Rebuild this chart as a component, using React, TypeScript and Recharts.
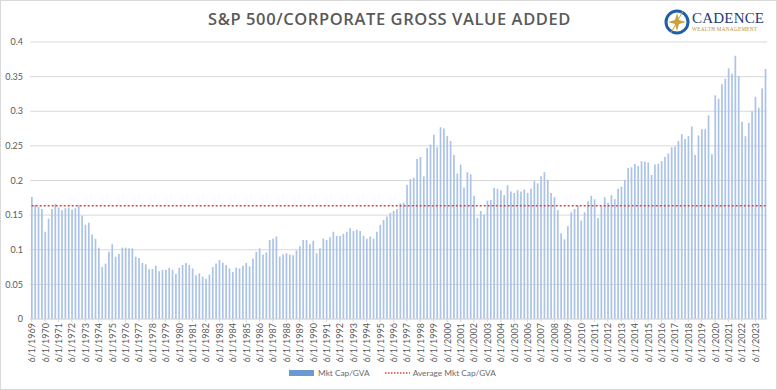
import { ComposedChart, Bar, Line, XAxis, YAxis, CartesianGrid } from 'recharts'

// quarterly readings, 6/1/1969 .. 3/1/2024
const mktCap1969 = [
  0.176, 0.165, 0.162, 0.159, 0.126, 0.145, 0.159, 0.166, 0.161, 0.157, 0.160, 0.161,
  0.158, 0.160, 0.164, 0.149, 0.136, 0.139, 0.122, 0.116, 0.103, 0.075, 0.080, 0.097,
  0.108, 0.090, 0.094, 0.103, 0.103, 0.102, 0.102, 0.090, 0.088, 0.081, 0.079, 0.072,
  0.072, 0.077, 0.069, 0.071, 0.071, 0.074, 0.071, 0.065,
]
const mktCap1980 = [
  0.074, 0.078, 0.081, 0.078, 0.073, 0.063, 0.066, 0.061, 0.058, 0.064, 0.075, 0.080,
  0.085, 0.081, 0.078, 0.073, 0.068, 0.074, 0.073, 0.077, 0.081, 0.076, 0.087, 0.097,
  0.102, 0.093, 0.096, 0.114, 0.116, 0.119, 0.090, 0.093, 0.095, 0.093, 0.092, 0.099,
  0.105, 0.114, 0.114, 0.108, 0.113, 0.095, 0.102, 0.116,
]
const mktCap1991 = [
  0.114, 0.118, 0.126, 0.120, 0.120, 0.123, 0.126, 0.131, 0.127, 0.129, 0.127, 0.120,
  0.116, 0.119, 0.116, 0.126, 0.136, 0.143, 0.148, 0.153, 0.156, 0.159, 0.167, 0.168,
  0.194, 0.202, 0.204, 0.231, 0.234, 0.206, 0.247, 0.252, 0.266, 0.248, 0.277, 0.275,
  0.264, 0.257, 0.237, 0.210, 0.223, 0.190, 0.212, 0.209,
]
const mktCap2002 = [
  0.178, 0.146, 0.156, 0.151, 0.171, 0.172, 0.189, 0.188, 0.186, 0.179, 0.193, 0.184,
  0.182, 0.186, 0.184, 0.187, 0.182, 0.188, 0.199, 0.196, 0.206, 0.212, 0.201, 0.182,
  0.176, 0.157, 0.124, 0.115, 0.134, 0.154, 0.159, 0.164, 0.142, 0.154, 0.170, 0.178,
  0.173, 0.146, 0.163, 0.176, 0.168, 0.179, 0.173,
]
const mktCap2013 = [
  0.188, 0.191, 0.201, 0.218, 0.219, 0.224, 0.221, 0.228, 0.227, 0.226, 0.208, 0.223,
  0.224, 0.228, 0.234, 0.239, 0.248, 0.249, 0.257, 0.267, 0.260, 0.264, 0.278, 0.237,
  0.265, 0.274, 0.274, 0.294, 0.238, 0.323, 0.318, 0.339, 0.347, 0.362, 0.354, 0.380,
  0.351, 0.285, 0.264, 0.283, 0.300, 0.321, 0.305, 0.333, 0.361,
]
const mktCapGva = [...mktCap1969, ...mktCap1980, ...mktCap1991, ...mktCap2002, ...mktCap2013]
const averageMktCap = 0.1635

const quarterMonths = [6, 9, 12, 3]
const quarterDates = mktCapGva.map((_, i) => `${quarterMonths[i % 4]}/1/${1969 + Math.floor((i + 1) / 4)}`)

const yTicks = [0, 0.05, 0.1, 0.15, 0.2, 0.25, 0.3, 0.35, 0.4]

const data = quarterDates.map((date, i) => ({ date, value: mktCapGva[i], avg: averageMktCap }))

const grey = '#595959'
const barBlue = '#aac3e6'

function DateTick({ x, y, payload }: any) {
  return (
    <text
      x={x}
      y={y + 1}
      transform={`rotate(-90 ${x} ${y + 1})`}
      textAnchor="end"
      dominantBaseline="central"
      fontSize={9}
      fill={grey}
      fontFamily="Lato"
    >
      {payload.value}
    </text>
  )
}

function Logo() {
  return (
    <div style={{ position: 'absolute', left: 662, top: 7, display: 'flex', alignItems: 'center' }}>
      <svg width={28} height={28} viewBox="0 0 28 28">
        <circle cx={14} cy={14} r={11} fill="none" stroke="#1f5fa8" strokeWidth={3} />
        <path d="M14 5 L16 12 L23 14 L16 16 L14 23 L12 16 L5 14 L12 12 Z" fill="#c9a23c" />
        <line x1={20} y1={3} x2={8} y2={25} stroke="#c9a23c" strokeWidth={1} />
      </svg>
      <div style={{ marginLeft: 1, lineHeight: 1 }}>
        <div style={{ fontFamily: 'Liberation Serif', fontSize: 15, color: '#1d3c78', letterSpacing: 0.2 }}>CADENCE</div>
        <div style={{ fontFamily: 'Liberation Serif', fontSize: 5.2, color: '#b8923a', marginTop: 1, letterSpacing: 0.3 }}>
          WEALTH MANAGEMENT
        </div>
      </div>
    </div>
  )
}

export default function App() {
  return (
    <div
      style={{
        position: 'absolute',
        left: 0,
        top: 0,
        width: 777,
        height: 390,
        boxSizing: 'border-box',
        border: '1px solid #d9d9d9',
        background: '#fff',
        fontFamily: 'Lato',
      }}
    >
      <div
        style={{
          position: 'absolute',
          left: 0,
          width: 777,
          top: 6,
          textAlign: 'center',
          fontFamily: 'Open Sans',
          fontWeight: 600,
          fontSize: 16.5,
          letterSpacing: 0.6,
          color: grey,
        }}
      >
        S&amp;P 500/CORPORATE GROSS VALUE ADDED
      </div>
      <Logo />
      <div style={{ position: 'absolute', left: -1, top: -1 }}>
        <ComposedChart width={777} height={390} data={data} margin={{ top: 42, right: 10, left: 0, bottom: 32 }}>
          <CartesianGrid vertical={false} stroke="#d9d9d9" />
          <XAxis
            dataKey="date"
            interval={3}
            height={39}
            tick={<DateTick />}
            tickSize={3}
            tickMargin={0}
            stroke="#d9d9d9"
          />
          <YAxis
            domain={[0, 0.4]}
            ticks={yTicks}
            width={30}
            axisLine={false}
            tickLine={false}
            tickSize={0}
            tickMargin={7}
            tick={{ fontSize: 9, fill: grey, fontFamily: 'Lato' }}
          />
          <Bar dataKey="value" fill={barBlue} barSize={1.7} isAnimationActive={false} />
          <Line
            dataKey="avg"
            stroke="#e0403a"
            strokeWidth={1.5}
            strokeDasharray="2 2"
            dot={false}
            isAnimationActive={false}
          />
        </ComposedChart>
      </div>
      <div
        style={{
          position: 'absolute',
          top: 367,
          left: 288,
          display: 'flex',
          alignItems: 'center',
          fontSize: 8.3,
          color: '#6a6a6a',
          fontFamily: 'Lato',
        }}
      >
        <span style={{ display: 'inline-block', width: 25, height: 6, background: '#6b98d0' }} />
        <span style={{ marginLeft: 4 }}>Mkt Cap/GVA</span>
        <svg width={25} height={6} style={{ marginLeft: 15 }}>
          <line x1={0} y1={3} x2={25} y2={3} stroke="#e0403a" strokeWidth={1.5} strokeDasharray="1.5 1.5" />
        </svg>
        <span style={{ marginLeft: 3 }}>Average Mkt Cap/GVA</span>
      </div>
    </div>
  )
}
